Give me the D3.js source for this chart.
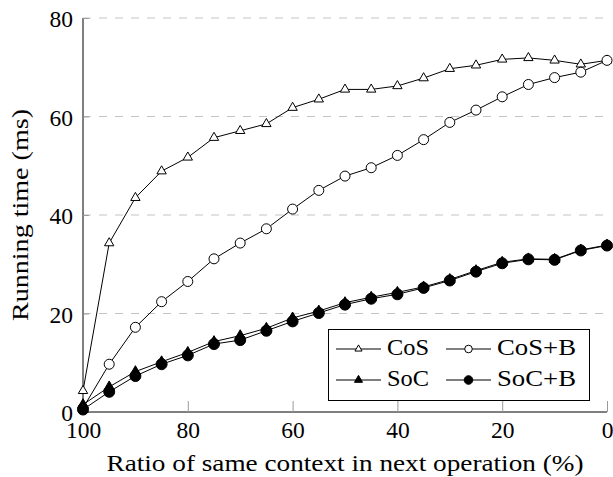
<!DOCTYPE html>
<html>
<head>
<meta charset="utf-8">
<script src="https://cdn.jsdelivr.net/npm/d3@7"></script>
<style>
  body { margin: 0; background: #fff; }
</style>
</head>
<body>
<div id="chart"></div>
<script>
// ratio of same context (%) - x positions
const ratios = [100, 95, 90, 85, 80, 75, 70, 65, 60, 55, 50, 45, 40, 35, 30, 25, 20, 15, 10, 5, 0];

// running time (ms) per series
const cos  = [4.3, 34.3, 43.5, 48.9, 51.7, 55.7, 57.1, 58.5, 61.8, 63.5, 65.5, 65.5, 66.2, 67.8, 69.7, 70.4, 71.6, 71.9, 71.4, 70.6, 71.4];
const cosB = [0.8, 9.7, 17.2, 22.4, 26.5, 31.1, 34.3, 37.2, 41.2, 45.0, 47.9, 49.6, 52.1, 55.3, 58.8, 61.3, 64.0, 66.5, 67.9, 69.0, 71.4];
const soc  = [1.5, 5.1, 8.2, 10.2, 12.1, 14.3, 15.5, 17.0, 19.1, 20.5, 22.2, 23.3, 24.3, 25.4, 26.9, 28.7, 30.4, 31.1, 31.0, 32.9, 33.9];
const socB = [0.5, 4.1, 7.3, 9.7, 11.5, 13.8, 14.6, 16.5, 18.4, 20.1, 21.8, 23.0, 23.9, 25.2, 26.7, 28.5, 30.2, 31.0, 30.9, 32.8, 33.8];

const seriesNames = ["CoS", "CoS+B", "SoC", "SoC+B"];
const xTicks = [100, 80, 60, 40, 20, 0];
const yTicks = [0, 20, 40, 60, 80];

const width = 613;
const height = 477;
const marginTop = 18;
const marginRight = 6;
const marginBottom = 65;
const marginLeft = 83;
const tickFont = 23.5;
const labelFont = 24;
const font = "'Liberation Serif', 'DejaVu Serif', serif";

const series = [
  {name: seriesNames[0], values: cos,  mark: "triangle", fill: "#fff", legendW: 42},
  {name: seriesNames[1], values: cosB, mark: "circle",   fill: "#fff", legendW: 79},
  {name: seriesNames[2], values: soc,  mark: "triangle", fill: "#000", legendW: 42},
  {name: seriesNames[3], values: socB, mark: "circle",   fill: "#000", legendW: 79}
];

const x = d3.scaleLinear()
    .domain([100, 0])
    .range([marginLeft, width - marginRight]);

const y = d3.scaleLinear()
    .domain([0, 80])
    .range([height - marginBottom, marginTop]);

const svg = d3.select("#chart")
  .append("svg")
    .attr("width", width)
    .attr("height", height)
    .attr("viewBox", [0, 0, width, height])
    .attr("font-family", font);

// dashed horizontal grid
svg.append("g")
  .selectAll("line")
  .data(yTicks.filter(d => d > 0))
  .join("line")
    .attr("x1", marginLeft)
    .attr("x2", width - marginRight)
    .attr("y1", d => y(d))
    .attr("y2", d => y(d))
    .attr("stroke", "#c4c4c4")
    .attr("stroke-width", 1)
    .attr("stroke-dasharray", "8,8");

// y axis
svg.append("g")
    .attr("transform", `translate(${marginLeft},0)`)
    .call(d3.axisLeft(y).tickValues(yTicks).tickSize(-6).tickPadding(10).tickFormat(d3.format("d")))
    .call(g => g.attr("font-family", font))
    .call(g => g.select(".domain").attr("stroke", "#000").attr("d", `M0,${y(80)}V${y(0)}`))
    .call(g => g.selectAll(".tick line").attr("stroke", "#9a9a9a"))
    .call(g => g.selectAll(".tick text")
        .attr("font-size", tickFont)
        .attr("dy", "0.38em")
        .attr("fill", "#000"));

// x axis
svg.append("g")
    .attr("transform", `translate(0,${y(0)})`)
    .call(d3.axisBottom(x).tickValues(xTicks).tickSize(-11).tickPadding(9).tickFormat(d3.format("d")))
    .call(g => g.attr("font-family", font))
    .call(g => g.select(".domain").attr("stroke", "#000").attr("d", `M${x(100)},0H${x(0)}`))
    .call(g => g.selectAll(".tick line").attr("stroke", "#9a9a9a"))
    .call(g => g.selectAll(".tick text")
        .attr("font-size", tickFont)
        .attr("fill", "#000"));

// axis labels (stretched a bit to the width of the original's font)
svg.append("text")
    .attr("x", (x(100) + x(0)) / 2)
    .attr("y", 471)
    .attr("text-anchor", "middle")
    .attr("font-size", labelFont)
    .attr("textLength", 477)
    .attr("lengthAdjust", "spacingAndGlyphs")
    .text("Ratio of same context in next operation (%)");

svg.append("text")
    .attr("transform", `translate(28,${(y(0) + y(80)) / 2}) rotate(-90)`)
    .attr("text-anchor", "middle")
    .attr("font-size", labelFont)
    .attr("textLength", 212)
    .attr("lengthAdjust", "spacingAndGlyphs")
    .text("Running time (ms)");

const line = d3.line()
    .x((d, i) => x(ratios[i]))
    .y(d => y(d));

const triangle = r => `M0,${-r}L${0.866 * r},${0.5 * r}L${-0.866 * r},${0.5 * r}Z`;

function drawMark(g, s, r) {
  if (s.mark === "circle") {
    g.append("circle").attr("r", r).attr("fill", s.fill).attr("stroke", "#000").attr("stroke-width", 1);
  } else {
    g.append("path").attr("d", triangle(r * 1.08)).attr("fill", s.fill).attr("stroke", "#000").attr("stroke-width", 1);
  }
}

// lines and markers
series.forEach(s => {
  const g = svg.append("g");
  g.append("path")
      .datum(s.values)
      .attr("fill", "none")
      .attr("stroke", "#000")
      .attr("stroke-width", 1)
      .attr("d", line);
  g.selectAll("g")
    .data(s.values)
    .join("g")
      .attr("transform", (d, i) => `translate(${x(ratios[i])},${y(d)})`)
      .each(function() { drawMark(d3.select(this), s, s.fill === "#000" ? 5.5 : 5); });
});

// legend
const legend = svg.append("g");
legend.append("rect")
    .attr("x", 328.5)
    .attr("y", 329.5)
    .attr("width", 261)
    .attr("height", 71)
    .attr("fill", "#fff")
    .attr("stroke", "#000")
    .attr("stroke-width", 1);

const legendPos = [[336, 349], [446, 349], [336, 380], [446, 380]];
series.forEach((s, i) => {
  const [lx, ly] = legendPos[i];
  const g = legend.append("g").attr("transform", `translate(${lx},${ly})`);
  g.append("line").attr("x1", 0).attr("x2", 45).attr("stroke", "#000").attr("stroke-width", 1);
  const m = g.append("g").attr("transform", "translate(22.5,0)");
  drawMark(m, s, s.fill === "#000" ? 4.3 : 3.8);
  g.append("text")
      .attr("x", 51)
      .attr("y", 5.8)
      .attr("font-size", labelFont)
      .attr("textLength", s.legendW)
      .attr("lengthAdjust", "spacingAndGlyphs")
      .text(s.name);
});
</script>
</body>
</html>
